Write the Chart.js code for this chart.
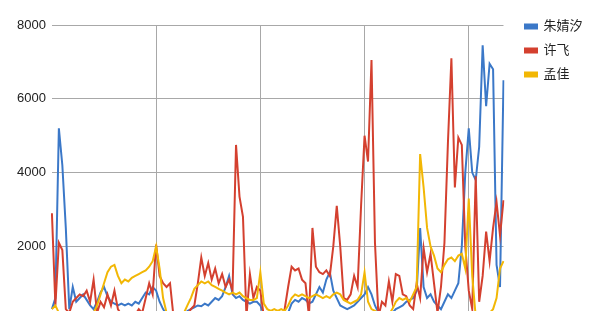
<!DOCTYPE html>
<html>
<head>
<meta charset="utf-8">
<script src="https://cdn.jsdelivr.net/npm/chart.js@4.4.1/dist/chart.umd.min.js"></script>
<style>
  html, body { margin: 0; padding: 0; background: #fff; overflow: hidden; }
  #wrap { position: relative; width: 600px; height: 334px; }
</style>
</head>
<body>
<div id="wrap"><canvas id="c"></canvas></div>
<script>
// Series names
const seriesNames = ['朱婧汐', '许飞', '孟佳'];

// Y-axis tick values
const yTicks = [0, 2000, 4000, 6000, 8000];

// Series values
const zhuJingxi = [
  300, 600, 5200, 4200, 2500, 300, 900, 500, 600, 700,
  550, 400, 300, 500, 750, 900, 650, 500, 450, 400,
  450, 400, 450, 400, 500, 450, 600, 750, 700, 900,
  800, 500, 300, 150, 100, 50, 50, 100, 150, 250,
  300, 350, 400, 380, 450, 400, 500, 600, 550, 650,
  900, 1200, 700, 600, 650, 550, 500, 450, 500, 500,
  400, 150, 100, 50, 50, 100, 50, 100, 200, 450,
  550, 500, 600, 550, 450, 500, 700, 900, 750, 1100,
  1300, 800, 600, 400, 350, 300, 350, 400, 500, 600,
  700, 900, 700, 400, 200, 150, 100, 150, 200, 300,
  350, 400, 500, 550, 600, 800, 2500, 900, 600, 700,
  500, 400, 300, 500, 700, 600, 800, 1000, 2000, 4000,
  5200, 4000, 3800, 4700, 7450, 5800, 6950, 6800, 1500, 900,
  6500
];
const xuFei = [
  2900, 400, 2100, 1900, 300, 200, 500, 600, 700, 650,
  800, 500, 1100, 200, 500, 350, 700, 400, 800, 300,
  150, 100, 200, 100, 150, 300, 200, 600, 1000, 700,
  2050, 1200, 1000, 900, 1000, 100, 100, 50, 100, 150,
  300, 400, 1000, 1700, 1200, 1550, 1100, 1400, 1000, 1250,
  900, 1100, 800, 4750, 3350, 2800, 100, 1250, 600, 900,
  800, 100, 50, 150, 100, 200, 100, 300, 900, 1450,
  1350, 1400, 1100, 1000, 100, 2500, 1450, 1300, 1250, 1350,
  1200, 2000, 3100, 2000, 600, 550, 700, 1200, 900, 3100,
  5000, 4300, 7050, 2100, 100, 500, 400, 1050, 500, 1250,
  1200, 700, 650, 400, 300, 1000, 600, 1950, 1300, 1800,
  1000, 200, 900, 2100, 4800, 7100, 3600, 4950, 4750, 2000,
  800, 300, 3900, 500, 1200, 2400, 1600, 2500, 3200, 2300,
  3250
];
const mengJia = [
  300, 400, 200, 150, 100, 100, 150, 100, 150, 100,
  200, 150, 200, 400, 700, 1000, 1300, 1450, 1500, 1200,
  1000, 1100, 1050, 1150, 1200, 1250, 1300, 1350, 1450, 1600,
  2000, 1400, 600, 200, 100, 50, 50, 100, 200, 400,
  600, 850, 950, 1050, 1000, 1050, 950, 900, 850, 800,
  750, 700, 750, 700, 750, 650, 600, 550, 550, 600,
  1300, 450, 300, 250, 300, 250, 300, 250, 400, 600,
  700, 650, 700, 650, 600, 650, 700, 650, 600, 650,
  600, 700, 750, 700, 550, 500, 450, 500, 550, 700,
  1300, 500, 300, 250, 200, 150, 100, 150, 300, 500,
  600, 550, 600, 500, 700, 900, 4500, 3600, 2500, 2000,
  1750, 1400, 1300, 1500, 1650, 1700, 1600, 1750, 1800, 1400,
  3300, 1200, 100, 50, 50, 100, 200, 300, 600, 1400,
  1600
];

// Categories (one per data point; the axis labels are cut off in the picture)
const categories = zhuJingxi.map((_, i) => String(i + 1));

const colors = ['#3b78c8', '#d4402f', '#f2b705'];

const legendShift = {
  id: 'legendShift',
  afterLayout(chart) {
    const lg = chart.legend;
    if (!lg) return;
    const dy = 9 - lg.top;
    lg.top += dy; lg.bottom += dy;
    const dx = 514 - lg.left;
    lg.left += dx; lg.right += dx;
  }
};

new Chart(document.getElementById('c'), {
  type: 'line',
  data: {
    labels: categories,
    datasets: [
      { label: seriesNames[0], data: zhuJingxi, borderColor: colors[0], backgroundColor: colors[0], order: 3 },
      { label: seriesNames[1], data: xuFei, borderColor: colors[1], backgroundColor: colors[1], order: 2 },
      { label: seriesNames[2], data: mengJia, borderColor: colors[2], backgroundColor: colors[2], order: 1 }
    ]
  },
  options: {
    responsive: true,
    maintainAspectRatio: false,
    animation: false,
    devicePixelRatio: 1,
    elements: {
      line: { borderWidth: 2, tension: 0 },
      point: { radius: 0, hoverRadius: 0 }
    },
    layout: { padding: { left: 11, right: 18, top: 25, bottom: 10 } },
    plugins: {
      tooltip: { enabled: false },
      legend: {
        position: 'right',
        align: 'start',
        labels: {
          boxWidth: 12,
          boxHeight: 4,
          padding: 11,
          color: '#222',
          font: { family: "'Liberation Sans', Arial, 'Noto Sans CJK SC', sans-serif", size: 13 },
          sort: (a, b) => a.datasetIndex - b.datasetIndex
        }
      }
    },
    scales: {
      x: {
        type: 'category',
        offset: false,
        border: { display: false },
        ticks: { display: false, autoSkip: false },
        grid: {
          drawTicks: false,
          color: (ctx) => (ctx.index > 0 && ctx.index % 30 === 0) ? '#a8a8a8' : 'rgba(0,0,0,0)',
          lineWidth: 1
        }
      },
      y: {
        min: 0,
        max: 8000,
        afterBuildTicks: (axis) => { axis.ticks = yTicks.map(v => ({ value: v })); },
        border: { display: false },
        ticks: {
          padding: 6,
          color: '#222',
          font: { family: "'Liberation Sans', Arial, sans-serif", size: 13 },
          callback: (v) => String(v)
        },
        grid: { drawTicks: false, color: '#a8a8a8', lineWidth: 1 }
      }
    }
  },
  plugins: [legendShift]
});
</script>
</body>
</html>
